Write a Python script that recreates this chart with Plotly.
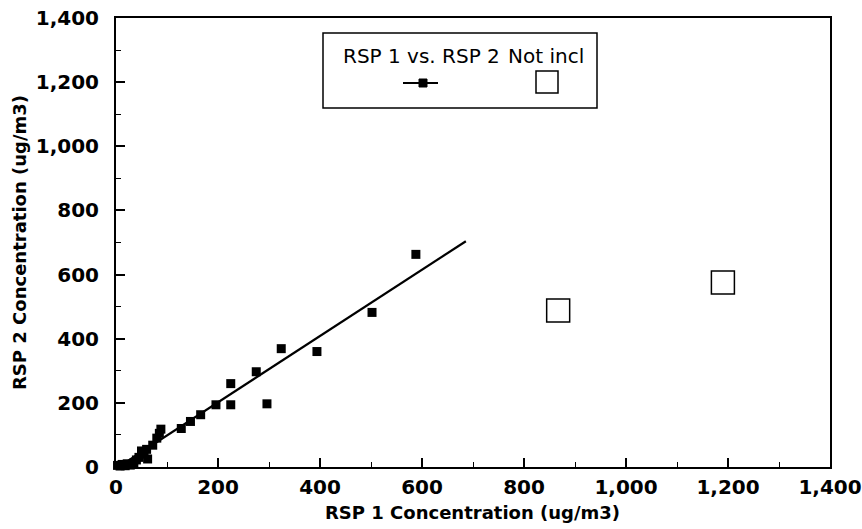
import plotly.graph_objects as go

# Data
rsp1 = [3, 8, 12, 18, 22, 28, 35, 40, 45, 50, 55, 60, 62, 72, 80, 85, 88,
        128, 146, 166, 196, 225, 225, 275, 296, 324, 394, 502, 588]
rsp2 = [5, 3, 8, 4, 10, 6, 12, 22, 30, 50, 40, 55, 25, 68, 90, 105, 118,
        120, 142, 163, 194, 194, 260, 297, 197, 369, 360, 482, 663]
fit_x = [0, 686]
fit_y = [-5, 704]
notincl_x = [867, 1190]
notincl_y = [488, 575]
tick_vals = [0, 200, 400, 600, 800, 1000, 1200, 1400]

W, H = 862, 529
ML, MR, MT, MB = 116, 32, 18, 62
PW, PH = W - ML - MR, H - MT - MB

FONT = "DejaVu Sans, Liberation Sans, Arial"

fig = go.Figure()
fig.add_trace(go.Scatter(x=fit_x, y=fit_y, mode="lines",
                         line=dict(color="black", width=2.2),
                         showlegend=False, cliponaxis=False))
fig.add_trace(go.Scatter(x=rsp1, y=rsp2, mode="markers",
                         marker=dict(symbol="square", size=9, color="black"),
                         showlegend=False, cliponaxis=False))
fig.add_trace(go.Scatter(x=notincl_x, y=notincl_y, mode="markers",
                         marker=dict(symbol="square-open", size=23, color="black",
                                     line=dict(width=1.5)),
                         showlegend=False, cliponaxis=False))

axis_common = dict(
    range=[0, 1400], tickvals=tick_vals, tickformat=",d",
    ticks="inside", ticklen=9, tickwidth=1.5, tickcolor="black",
    showline=True, linecolor="black", linewidth=2, mirror=True,
    showgrid=False, zeroline=False, automargin=False,
    tickfont=dict(family=FONT, size=20, color="black", weight="bold"),
    minor=dict(dtick=100, ticks="inside", ticklen=5, tickwidth=1, tickcolor="black"),
)

fig.update_xaxes(**axis_common, ticklabelstandoff=1)
fig.update_yaxes(**axis_common, ticklabelstandoff=11)


def px(x):
    return (x - ML) / PW


def py(y):
    return (H - MB - y) / PH


def ann(x, y, text, size, bold=False, angle=0):
    fig.add_annotation(xref="paper", yref="paper", x=px(x), y=py(y),
                       xanchor="center", yanchor="middle",
                       text=text, showarrow=False, textangle=angle,
                       font=dict(family=FONT, size=size, color="black",
                                 weight="bold" if bold else "normal"))


# Axis titles
ann(472, 512, "RSP 1 Concentration (ug/m3)", 18, bold=True)
ann(19, 243, "RSP 2 Concentration (ug/m3)", 18, bold=True, angle=-90)

# Legend box (drawn manually to match the original layout)
fig.add_shape(type="rect", xref="paper", yref="paper",
              x0=px(323), x1=px(597), y0=py(108), y1=py(33),
              line=dict(color="black", width=1.5), fillcolor="white")
ann(421, 56, "RSP 1 vs. RSP 2", 20)
ann(546, 56, "Not incl", 20)
fig.add_shape(type="line", xref="paper", yref="paper",
              x0=px(403), x1=px(438), y0=py(83), y1=py(83),
              line=dict(color="black", width=2))
fig.add_shape(type="rect", xref="paper", yref="paper",
              x0=px(419), x1=px(427), y0=py(87), y1=py(79),
              line=dict(color="black", width=1), fillcolor="black")
fig.add_shape(type="rect", xref="paper", yref="paper",
              x0=px(536), x1=px(558), y0=py(93), y1=py(71),
              line=dict(color="black", width=1.5), fillcolor="white")

fig.update_layout(
    width=W, height=H,
    margin=dict(l=ML, r=MR, t=MT, b=MB),
    paper_bgcolor="white", plot_bgcolor="white",
    showlegend=False,
)

fig.write_html("out.html", config={"displayModeBar": False},
               post_script="document.body.style.margin='0';document.body.style.overflow='hidden';")
